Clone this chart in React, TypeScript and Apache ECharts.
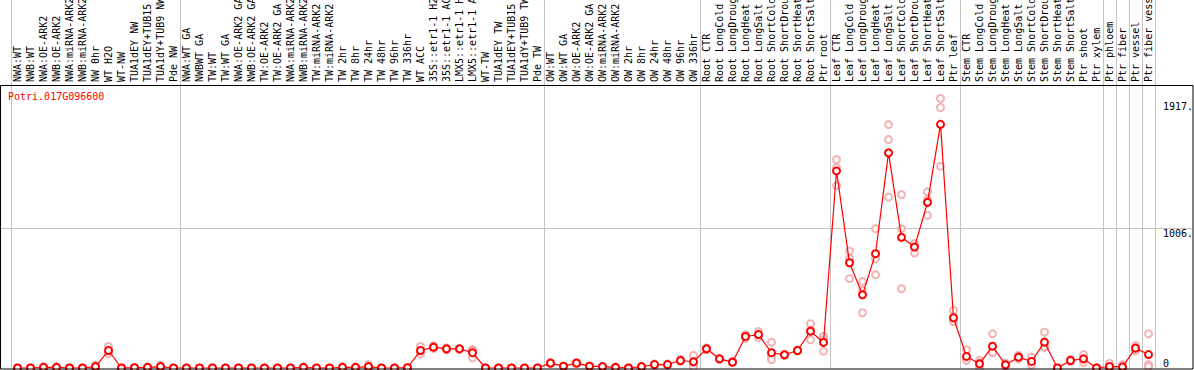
import React, { useEffect, useRef } from "react";
import * as echarts from "echarts";

const geneId = "Potri.017G096600";

const categories = [
  "NWA:WT", "NWB:WT", "NWA:OE-ARK2", "NWB:OE-ARK2", "NWA:miRNA-ARK2", "NWB:miRNA-ARK2", "NW 0hr", "WT H2O", "WT-NW", "TUA1dEY NW", "TUA1dEY+TUB15 NW", "TUA1dY+TUB9 NW", "Pde NW",
  "NWA:WT GA", "NWBWT GA", "TW:WT", "TW:WT GA", "NWA:OE-ARK2 GA", "NWB:OE-ARK2 GA", "TW:OE-ARK2", "TW:OE-ARK2 GA", "NWA:miRNA-ARK2", "NWB:miRNA-ARK2", "TW:miRNA-ARK2", "TW:miRNA-ARK2", "TW 2hr", "TW 8hr", "TW 24hr", "TW 48hr", "TW 96hr", "TW 336hr", "WT ACC", "35S::etr1-1 H2O", "35S::etr1-1 ACC", "LMX5::etr1-1 H2O", "LMX5::etr1-1 ACC", "WT-TW", "TUA1dEY TW", "TUA1dEY+TUB15 TW", "TUA1dY+TUB9 TW", "Pde TW",
  "OW:WT", "OW:WT GA", "OW:OE-ARK2", "OW:OE-ARK2 GA", "OW:miRNA-ARK2", "OW:miRNA-ARK2", "OW 2hr", "OW 8hr", "OW 24hr", "OW 48hr", "OW 96hr", "OW 336hr",
  "Root CTR", "Root LongCold", "Root LongDrought", "Root LongHeat", "Root LongSalt", "Root ShortCold", "Root ShortDrought", "Root ShortHeat", "Root ShortSalt", "Ptr root",
  "Leaf CTR", "Leaf LongCold", "Leaf LongDrought", "Leaf LongHeat", "Leaf LongSalt", "Leaf ShortCold", "Leaf ShortDrought", "Leaf ShortHeat", "Leaf ShortSalt", "Ptr leaf",
  "Stem CTR", "Stem LongCold", "Stem LongDrought", "Stem LongHeat", "Stem LongSalt", "Stem ShortCold", "Stem ShortDrought", "Stem ShortHeat", "Stem ShortSalt", "Ptr shoot", "Ptr xylem",
  "Ptr phloem", "Ptr fiber", "Ptr vessel", "Ptr fiber vessel",
];

// first category index of each group (vertical separators)
const groupStarts = [0, 13, 41, 53, 63, 73, 84, 85, 86, 87];

const means = [
  0, 0, 5, 5, 0, 0, 10, 126, 0, 2, 5, 10, 0,
  0, 0, 0, 0, 0, 0, 0, 0, 0, 5, 0, 0, 5, 5, 10, 0, 0, 2, 126, 150, 138, 138, 110, 0, 0, 0, 0, 0,
  35, 13, 35, 13, 10, 5, 0, 10, 25, 25, 54, 45,
  138, 66, 42, 227, 241, 110, 95, 126, 265, 184,
  1419, 758, 527, 823, 1549, 941, 871, 1193, 1755, 362,
  83, 30, 157, 23, 78, 47, 186, 0, 54, 66, 0,
  11, 8, 143, 97,
];

const rep1 = [
  0, 0, 10, 8, 0, 0, 20, 155, 0, 3, 8, 20, 0,
  0, 0, 3, 0, 0, 0, 0, 0, 0, 8, 0, 0, 8, 8, 25, 0, 0, 3, 155, 160, 145, 142, 133, 0, 0, 0, 0, 0,
  40, 16, 40, 16, 12, 8, 0, 12, 30, 30, 60, 90,
  145, 70, 46, 240, 262, 186, 100, 130, 319, 227,
  1501, 842, 624, 1003, 1753, 1249, 888, 1268, 1941, 415,
  131, 54, 246, 35, 92, 78, 258, 0, 62, 97, 0,
  33, 25, 162, 246,
];

const rep2 = [
  0, 0, 3, 4, 0, 0, 5, 120, 0, 2, 4, 5, 0,
  0, 0, 0, 0, 0, 0, 0, 0, 0, 4, 0, 0, 4, 4, 3, 0, 0, 2, 120, 150, 138, 138, 124, 0, 0, 0, 0, 0,
  35, 12, 35, 12, 10, 4, 0, 10, 25, 25, 54, 34,
  138, 66, 42, 227, 241, 83, 95, 126, 273, 204,
  1443, 789, 559, 787, 1645, 1003, 828, 1212, 1876, 338,
  63, 35, 114, 23, 78, 40, 150, 0, 54, 62, 0,
  0, 0, 143, 25,
];

const rep3 = [
  0, 0, 2, 3, 0, 0, 5, 103, 0, 1, 3, 5, 0,
  0, 0, 0, 0, 0, 0, 0, 0, 0, 3, 0, 0, 3, 3, 2, 0, 0, 1, 102, 140, 131, 134, 73, 0, 0, 0, 0, 0,
  30, 11, 30, 11, 8, 3, 0, 8, 20, 20, 48, 11,
  131, 62, 38, 214, 220, 61, 90, 122, 203, 121,
  1313, 643, 398, 672, 1231, 571, 897, 1099, 1453, 333,
  55, 1, 111, 11, 64, 23, 150, 0, 46, 39, 0,
  0, 0, 124, 11,
];

const yTickValues = [1006, 1917];
const yTickLabels = ["1006.", "1917."];
const yZeroLabel = "0";
const yMax = 2650;

const MONO = "'DejaVu Sans Mono', monospace";

export default function App() {
  const ref = useRef<HTMLDivElement>(null);

  useEffect(() => {
    if (!ref.current) return;
    const chart = echarts.init(ref.current, null, { renderer: "svg" });

    const repData: [number, number][] = [];
    [rep1, rep2, rep3].forEach((rep) => {
      rep.forEach((v, i) => repData.push([i, v]));
    });

    const option: any = {
      animation: false,
      backgroundColor: "#ffffff",
      title: {
        text: geneId,
        left: 8,
        top: 91,
        padding: 0,
        textStyle: { fontFamily: MONO, fontSize: 10, fontWeight: "normal", color: "#ff0000" },
      },
      grid: [
        { left: 11, right: 39, top: 0, bottom: 2, outerBoundsMode: "none" },
        { left: 0, right: 1, top: 0, bottom: 2, outerBoundsMode: "none" },
      ],
      xAxis: [
        {
          type: "category",
          gridIndex: 0,
          data: categories,
          position: "top",
          offset: -85,
          boundaryGap: true,
          axisLine: { show: false },
          axisTick: { show: false },
          axisLabel: {
            interval: 0,
            rotate: 90,
            margin: 3,
            fontFamily: MONO,
            fontSize: 10,
            color: "#000000",
          },
          splitLine: {
            show: true,
            interval: (index: number) => groupStarts.indexOf(index) >= 0,
            lineStyle: { color: "#c4c4c4", width: 1 },
          },
        },
        { type: "value", gridIndex: 1, min: 0, max: 1, show: false },
      ],
      yAxis: [
        {
          type: "value",
          gridIndex: 0,
          position: "right",
          min: 0,
          max: yMax,
          axisLine: { show: false },
          axisTick: { show: false },
          splitLine: { show: false },
          axisLabel: {
            customValues: yTickValues,
            formatter: (v: number) => yTickLabels[yTickValues.indexOf(v)] ?? "",
            margin: 8,
            verticalAlign: "top",
            fontFamily: MONO,
            fontSize: 10,
            color: "#000000",
          },
        },
        {
          type: "value",
          gridIndex: 1,
          position: "right",
          min: 0,
          max: yMax,
          axisLine: { show: false },
          axisTick: { show: false, customValues: [yTickValues[0]] },
          axisLabel: { show: false },
          splitLine: { show: true, lineStyle: { color: "#c4c4c4", width: 1 } },
        },
        {
          type: "value",
          gridIndex: 0,
          position: "right",
          min: 0,
          max: yMax,
          axisLine: { show: false },
          axisTick: { show: false },
          splitLine: { show: false },
          axisLabel: {
            customValues: [0],
            formatter: () => yZeroLabel,
            margin: 8,
            verticalAlign: "bottom",
            fontFamily: MONO,
            fontSize: 10,
            color: "#000000",
          },
        },
      ],
      series: [
        {
          type: "scatter",
          xAxisIndex: 0,
          yAxisIndex: 0,
          data: repData,
          symbol: "emptyCircle",
          symbolSize: 7,
          itemStyle: { color: "#f0a0a0", borderWidth: 1.3 },
          z: 2,
          silent: true,
        },
        {
          type: "line",
          xAxisIndex: 0,
          yAxisIndex: 0,
          data: means,
          symbol: "emptyCircle",
          symbolSize: 7,
          showAllSymbol: true,
          lineStyle: { color: "#ff0000", width: 1.2 },
          itemStyle: { color: "#ff0000", borderWidth: 1.5 },
          z: 3,
          silent: true,
        },
      ],
      graphic: [
        {
          type: "rect",
          shape: { x: 0.5, y: 85.5, width: 1192.5, height: 283.5 },
          style: { fill: "none", stroke: "#000000", lineWidth: 1 },
          silent: true,
          z: 100,
        },
      ],
    };

    chart.setOption(option);
    return () => chart.dispose();
  }, []);

  return (
    <div
      ref={ref}
      style={{ position: "fixed", left: 0, top: 0, width: 1194, height: 370, background: "#fff" }}
    />
  );
}
